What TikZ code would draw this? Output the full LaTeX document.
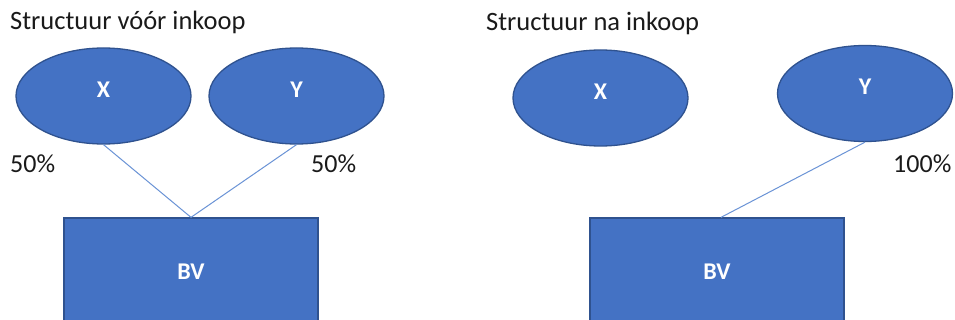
\documentclass[tikz,border=0pt]{standalone}
\usepackage{fontspec}
\setmainfont{Carlito}
\usetikzlibrary{shapes.geometric}
\definecolor{ofill}{HTML}{4472C4}
\definecolor{odraw}{HTML}{2F528F}
\definecolor{oline}{HTML}{6A93D6}
\definecolor{otext}{HTML}{1A1A1A}
\tikzset{
  owner/.style={ellipse, draw=odraw, fill=ofill, line width=1.3pt, minimum width=175pt, minimum height=96pt, inner sep=0pt, text=white, font=\fontsize{24}{24}\selectfont\bfseries, text height=15pt, text depth=12pt},
  company/.style={rectangle, draw=odraw, fill=ofill, line width=1.3pt, minimum width=254pt, minimum height=108pt, inner sep=0pt, text=white, font=\fontsize{24}{24}\selectfont\bfseries},
  conn/.style={draw=oline, line width=1pt},
  caption/.style={anchor=base west, inner sep=0pt, text=otext, font=\fontsize{26.5}{26.5}\selectfont},
  pct/.style={anchor=base west, inner sep=0pt, text=otext, font=\fontsize{26}{26}\selectfont}
}
\begin{document}
\begin{tikzpicture}[x=1pt,y=-1pt]
\useasboundingbox (0,0) rectangle (955,320);
\fill[white] (0,0) rectangle (955,320);
\clip (0,0) rectangle (955,320);
% left panel
\node[caption] (t1) at (10,30) {Structuur vóór inkoop};
\node[owner] (x1) at (103.5,96) {X};
\node[owner] (y1) at (296.5,96) {Y};
\node[company] (bv1) at (191,272) {BV};
\node[pct] (p1) at (10,173) {50\%};
\node[pct] (p2) at (311,173) {50\%};
\draw[conn] (x1.south) -- (bv1.north);
\draw[conn] (y1.south) -- (bv1.north);
% right panel
\node[caption] (t2) at (486,31) {Structuur na inkoop};
\node[owner] (x2) at (600.5,98) {X};
\node[owner] (y2) at (865,93.5) {Y};
\node[company] (bv2) at (717,272) {BV};
\node[pct] (p3) at (893,173) {100\%};
\draw[conn] (y2.south) -- ([xshift=4pt]bv2.north);
\end{tikzpicture}
\end{document}
